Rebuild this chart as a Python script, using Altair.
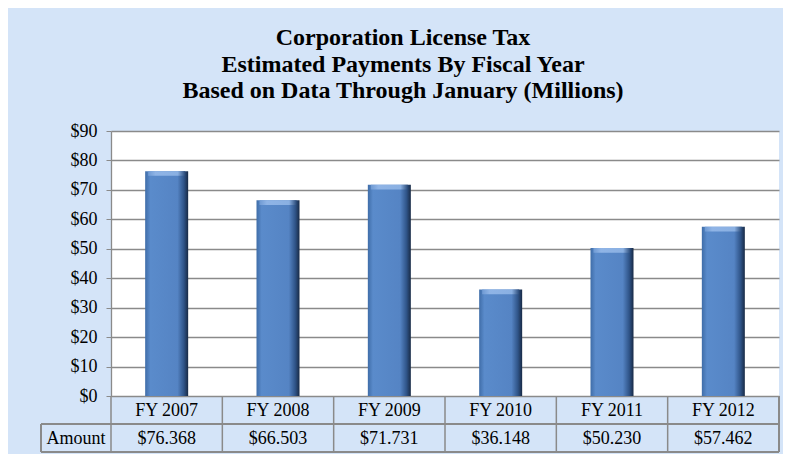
import altair as alt
import pandas as pd

categories = ["FY 2007", "FY 2008", "FY 2009", "FY 2010", "FY 2011", "FY 2012"]
values = [76.368, 66.503, 71.731, 36.148, 50.230, 57.462]
amount_labels = ["$76.368", "$66.503", "$71.731", "$36.148", "$50.230", "$57.462"]
title_lines = ["Corporation License Tax",
               "Estimated Payments By Fiscal Year",
               "Based on Data Through January (Millions)"]
row_label = "Amount"
y_ticks = [0, 10, 20, 30, 40, 50, 60, 70, 80, 90]

df = pd.DataFrame({"cat": categories, "value": values, "amount": amount_labels})

W, H = 668, 265
ROW1 = 28
ROW2 = 28
LEFTCOL = 70
FONT = "Liberation Serif"
GRID = "#8A8A8A"
BG = "#D4E4F8"

xscale = alt.Scale(domain=categories, paddingInner=0, paddingOuter=0)
xenc = alt.X("cat:N", scale=xscale, axis=None)
yscale = alt.Scale(domain=[0, 90], nice=False)
yaxis = alt.Axis(values=y_ticks, labelExpr="'$' + datum.value",
                 title=None, labelFont=FONT, labelFontSize=18,
                 labelColor="black", labelPadding=9, tickSize=5,
                 tickColor=GRID, domainColor=GRID, gridColor=GRID,
                 gridWidth=1.3, domainWidth=1.3)

base = alt.Chart(df)

bar_grad = alt.Gradient(
    gradient="linear",
    stops=[
        alt.GradientStop(color="#3F6DA8", offset=0),
        alt.GradientStop(color="#5A8BCB", offset=0.12),
        alt.GradientStop(color="#5584C4", offset=0.75),
        alt.GradientStop(color="#2F5488", offset=0.9),
        alt.GradientStop(color="#182A45", offset=1),
    ],
    x1=0, x2=1, y1=0, y2=0,
)
top_grad = alt.Gradient(
    gradient="linear",
    stops=[
        alt.GradientStop(color="#6F9AD3", offset=0),
        alt.GradientStop(color="#8FB4E6", offset=0.2),
        alt.GradientStop(color="#8AB0E2", offset=0.8),
        alt.GradientStop(color="#2A4A78", offset=1),
    ],
    x1=0, x2=1, y1=0, y2=0,
)

bars = base.mark_bar(size=43, color=bar_grad).encode(
    x=xenc,
    y=alt.Y("value:Q", scale=yscale, axis=yaxis),
)

bevel = base.transform_calculate(lo="datum.value - 1.6").mark_bar(
    size=37, color=top_grad).encode(
    x=xenc,
    y=alt.Y("value:Q", scale=yscale, axis=yaxis),
    y2="lo:Q",
)

# table cells: vertical dividers at column starts
vlines = base.mark_rule(color=GRID, strokeWidth=1.5).encode(
    x=alt.X("cat:N", scale=xscale, axis=None, bandPosition=0),
    y=alt.value(H),
    y2=alt.value(H + ROW1 + ROW2),
)
right_line = base.mark_rule(color=GRID, strokeWidth=1.5).encode(
    x=alt.value(W), y=alt.value(H), y2=alt.value(H + ROW1 + ROW2))
left_line = base.mark_rule(color=GRID, strokeWidth=1.5).encode(
    x=alt.value(-LEFTCOL), y=alt.value(H + ROW1), y2=alt.value(H + ROW1 + ROW2))
mid_line = base.mark_rule(color=GRID, strokeWidth=1.5).encode(
    x=alt.value(-LEFTCOL), x2=alt.value(W), y=alt.value(H + ROW1))
bot_line = base.mark_rule(color=GRID, strokeWidth=1.5).encode(
    x=alt.value(-LEFTCOL), x2=alt.value(W), y=alt.value(H + ROW1 + ROW2))

cat_text = base.mark_text(font=FONT, fontSize=18, color="black", baseline="middle").encode(
    x=xenc, y=alt.value(H + ROW1 / 2 + 1), text="cat:N")
amt_text = base.mark_text(font=FONT, fontSize=18, color="black", baseline="middle").encode(
    x=xenc, y=alt.value(H + ROW1 + ROW2 / 2 + 1), text="amount:N")
row_text = alt.Chart(pd.DataFrame({"t": [row_label]})).mark_text(
    font=FONT, fontSize=18, color="black", baseline="middle").encode(
    x=alt.value(-LEFTCOL / 2), y=alt.value(H + ROW1 + ROW2 / 2 + 1), text="t:N")

title = alt.Chart(pd.DataFrame({"t": [0]})).mark_text(
    text=title_lines, font=FONT, fontSize=24, fontWeight="bold", color="black",
    baseline="alphabetic", lineHeight=26.5, align="center").encode(
    x=alt.value(292), y=alt.value(-86))

chart = alt.layer(bars, bevel, vlines, right_line, left_line, mid_line, bot_line,
                  cat_text, amt_text, row_text, title).properties(
    width=W, height=H,
    padding={"left": 103, "top": 123, "right": 4, "bottom": 58},
    autosize=alt.AutoSizeParams(type="none"),
    background=BG,
).configure_view(fill="white", strokeWidth=0)

chart.save("out.html", embed_options={"renderer": "svg", "actions": False})
